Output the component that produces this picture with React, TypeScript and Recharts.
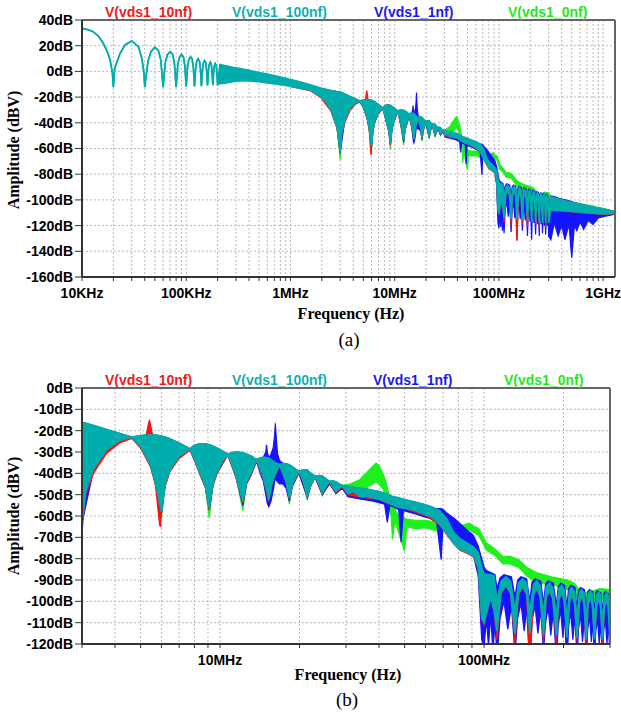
import React from "react";
import { ComposedChart, Area, XAxis, YAxis, CartesianGrid, ReferenceLine } from "recharts";

// one row = [frequency in MHz, lower edge dB, upper edge dB]
type Row = [number, number, number];

const cyan100nf: Row[] = [
  [0.01, 33.5, 33.5], [0.0115, 32.4, 32.4], [0.0128, 30.9, 30.9], [0.0145, 27.2, 27.2], [0.016, 21.9, 21.9],
  [0.0175, 15.2, 15.2], [0.0186, 8.9, 8.9], [0.0196, -1.5, -1.5], [0.02, -12.3, -12.3], [0.0206, 2.5, 2.5],
  [0.0232, 14.1, 14.1], [0.0259, 20.6, 20.6], [0.03, 23.7, 23.7], [0.0348, 19.3, 19.3], [0.0375, 10.2, 10.2],
  [0.0393, -1, -1], [0.04, -12.3, -12.3], [0.043, 8, 8], [0.046, 15.5, 15.5], [0.05, 18.7, 18.7],
  [0.054, 16.5, 16.5], [0.057, 9, 9], [0.06, -12.3, -12.3], [0.063, 7, 7], [0.066, 13, 13],
  [0.07, 15.4, 15.4], [0.074, 13.5, 13.5], [0.077, 6.5, 6.5], [0.08, -12.3, -12.3], [0.083, 5, 5],
  [0.086, 11, 11], [0.09, 13.2, 13.2], [0.094, 11.3, 11.3], [0.097, 4.5, 4.5], [0.1, -12, -12],
  [0.103, 3.5, 3.5], [0.106, 9.3, 9.3], [0.11, 11.4, 11.4], [0.114, 9.6, 9.6], [0.117, 3, 3],
  [0.12, -11.8, -11.8], [0.123, 2, 2], [0.126, 7.8, 7.8], [0.13, 9.8, 9.8], [0.134, 8, 8],
  [0.137, 1.5, 1.5], [0.14, -11.5, -11.5], [0.143, 1, 1], [0.146, 6.5, 6.5], [0.15, 8.4, 8.4],
  [0.154, 6.7, 6.7], [0.157, 0.5, 0.5], [0.16, -11, -11], [0.163, 0, 0], [0.166, 5.3, 5.3],
  [0.17, 7.2, 7.2], [0.174, 5.5, 5.5], [0.177, -0.5, -0.5], [0.18, -10.8, -10.8], [0.183, -1, -1],
  [0.186, 4.2, 4.2], [0.19, 6.1, 6.1], [0.194, 4.4, 4.4], [0.197, -1.5, -1.5], [0.2, -10.5, -10.5],
  [0.21, -9.5, 5.3], [0.24, -9, 4.3], [0.28, -8, 3.2], [0.33, -7.5, 2.2], [0.4, -7.5, 0.8],
  [0.5, -8, -0.8], [0.6, -9, -2], [0.75, -10, -3.8], [0.9, -11, -5.3], [1.05, -12, -6.8],
  [1.25, -13, -8.3], [1.55, -14.5, -10.5], [1.95, -19.6, -13], [2.2, -24, -14], [2.45, -30, -14.8],
  [2.8, -43, -15.8], [3.0, -63, -16.1], [3.1, -48, -16.5], [3.31, -38.3, -17.5], [3.72, -28.9, -19.5],
  [4.17, -24.6, -21.3], [4.63, -23, -23], [5.0, -27.5, -22.3], [5.25, -32, -22], [5.45, -36, -21.9],
  [5.7, -44.5, -22], [6.0, -58, -22.5], [6.2, -45, -23], [6.46, -38.3, -23.8], [7.0, -32, -25.8],
  [7.69, -28.5, -28.5], [8.0, -33, -26.8], [8.39, -39.9, -26.1], [8.8, -46, -26.2], [9.1, -56.3, -26.5],
  [9.4, -45, -27.2], [9.7, -39.9, -28], [10.2, -34.4, -29.5], [10.7, -31, -31], [11.1, -36, -30.2],
  [11.5, -41.4, -30], [12.2, -53.2, -30.3], [12.6, -44, -31], [13.1, -40, -31.8], [13.75, -33.6, -33.6],
  [14.2, -38, -32.8], [14.6, -42, -32.4], [15.3, -52.5, -32.8], [15.7, -45, -33.8], [16.1, -41, -34.8],
  [16.8, -36, -36], [17.3, -40, -35.3], [17.8, -44, -35.5], [18.3, -51.5, -36], [18.8, -45, -37],
  [19.3, -42, -38], [19.9, -39.1, -39.1], [20.6, -43, -38.4], [21.4, -50.8, -38.5], [22.1, -45, -40],
  [22.9, -41.4, -41.4], [23.7, -45, -41], [24.4, -49.2, -41.3], [25.2, -46, -42.7], [26.0, -43.8, -43.8],
  [26.8, -46.5, -43.5], [27.5, -48.5, -44], [28.3, -47, -45], [29.0, -45.8, -45.8], [30.5, -49.5, -46],
  [32, -48.5, -46.5], [33.8, -50.8, -46.9], [35.8, -50.8, -47.2], [38, -51.5, -48], [40, -52, -48.5],
  [42.5, -53.5, -49.5], [45, -54.7, -50.8], [47.5, -56, -51.5], [51, -56.5, -52.5], [55, -57.5, -53.5],
  [60, -59.4, -54.7], [63, -60.2, -55.5], [68, -64, -57.5], [72, -68, -61], [77, -73, -68],
  [81, -75.5, -70.5], [86, -77, -72.5], [91, -78.5, -74.5], [95, -84, -77], [98, -108, -84],
  [100, -110, -87], [103, -104, -87.5], [106, -98, -87.5], [109, -104, -88], [112, -114, -100],
  [116, -96, -90.5], [121, -92.5, -88.5], [126, -96, -90.5], [131, -115, -104], [135, -96.5, -91.5],
  [140, -93, -89.5], [145, -96.5, -91.5], [149, -115, -105], [154, -97, -92], [158, -94, -90.5],
  [163, -97.5, -92.5], [168, -116, -106], [172, -98, -93], [177, -95, -91.5], [182, -98.5, -93.5],
  [188, -116, -107], [192, -99, -94], [197, -96, -92.5], [201, -99.5, -94.5], [206, -117, -108],
  [211, -100, -95], [215, -97, -93.5], [220, -100.5, -95.5], [225, -117, -108], [230, -100.5, -95.5],
  [234, -97.5, -94.5], [239, -101, -96], [244, -118, -109], [248, -101, -96.5], [253, -98.5, -95],
  [257, -101.5, -96.5], [262, -118, -109], [267, -102, -97], [272, -99, -95.5], [276, -102, -97],
  [281, -118, -110], [286, -102, -97.5], [291, -99.5, -96], [295, -102.5, -97.5], [300, -118, -110],
  [315, -108, -97.5], [360, -108, -99], [420, -108.5, -100.5], [500, -109, -102], [600, -109.5, -103.3],
  [700, -110, -104.5], [850, -110.5, -106], [1000, -111, -107], [1150, -110.8, -108], [1300, -110.5, -109],
];

const red10nf: Row[] = [
  [1.0, -11.8, -6.3], [1.25, -13.4, -8.5], [1.55, -15, -10.6], [1.95, -20.3, -13.2], [2.45, -31, -15],
  [2.8, -44.5, -16], [3.0, -64, -16.3], [3.1, -50, -16.6], [3.31, -40.2, -17.6], [3.72, -30.6, -19.6],
  [4.17, -25.8, -21.4], [4.63, -23.6, -23.1], [5.0, -28.2, -22.4], [5.25, -33, -22.1], [5.35, -35, -17],
  [5.4, -36, -14.9], [5.45, -37, -17], [5.55, -40, -21.7], [5.7, -46, -22.1], [5.9, -64, -22.4],
  [5.95, -65, -22.5], [6.05, -52, -22.6], [6.2, -46, -23.1], [6.46, -39.2, -23.9], [7.0, -33, -25.9],
  [7.69, -29.2, -28.6], [8.0, -33.6, -26.9], [8.39, -40.6, -26.2], [8.8, -46.8, -26.3], [9.1, -57.2, -26.6],
  [9.4, -45.8, -27.3], [9.7, -40.8, -28.1], [10.2, -35.2, -29.6], [10.7, -31.6, -31.1], [11.1, -36.6, -30.3],
  [11.5, -42.2, -30.1], [12.2, -54, -30.4], [12.6, -44.8, -31.1], [13.1, -40.8, -31.9], [13.75, -34.2, -33.7],
  [14.2, -38.6, -32.9], [14.6, -42.8, -32.5], [15.3, -53.2, -32.9], [15.7, -45.6, -33.9], [16.1, -41.6, -34.9],
  [16.8, -36.6, -36.1], [17.3, -40.6, -35.4], [17.8, -44.6, -35.6], [18.3, -52.2, -36.1], [18.8, -45.6, -37.1],
  [19.3, -42.6, -38.1], [19.9, -39.6, -39.2], [20.6, -43.6, -38.5], [21.4, -51.4, -38.6], [22.1, -45.6, -40.1],
  [22.9, -41.9, -41.5], [23.7, -45.6, -41.1], [24.4, -49.7, -41.4], [25.2, -46.6, -42.8], [26, -44.3, -43.9],
  [26.8, -47, -43.6], [27.5, -49, -44.1], [28.3, -47.5, -45.1], [29, -46.3, -45.9], [30.5, -50, -46.1],
  [33.8, -51.2, -47], [38, -51.9, -48.1], [40, -52.3, -48.6], [45, -55, -50.9], [51, -56.8, -52.6],
  [60, -59.7, -54.8], [68, -64.3, -57.6], [72, -68.5, -61.2], [77, -73.3, -68.2], [81, -76, -70.6],
  [86, -77.4, -72.6], [91, -79, -74.6], [95, -84.5, -77.2], [98, -108.5, -84.2], [100, -111, -87.1],
  [103, -104.5, -87.6], [106, -98.5, -87.6], [109, -104.5, -88.1], [112, -118, -100], [116, -96.5, -90.6],
  [121, -93, -88.6], [126, -96.5, -90.6], [131, -120, -104], [135, -97, -91.6], [140, -93.5, -89.6],
  [145, -97, -91.6], [149, -132, -105], [154, -97.5, -92.1], [158, -94.5, -90.6], [163, -98, -92.6],
  [168, -119, -106], [172, -98.5, -93.1], [177, -95.5, -91.6], [182, -99, -93.6], [188, -121, -107],
  [192, -99.5, -94.1], [197, -96.5, -92.6], [201, -100, -94.6], [206, -112, -108], [211, -100.5, -95.1],
  [215, -97.5, -93.6], [220, -101, -95.6], [225, -119, -108], [230, -101, -95.6], [234, -98, -94.6],
  [239, -101.5, -96.1], [244, -122, -109], [248, -101.5, -96.6], [253, -99, -95.1], [257, -102, -96.6],
  [262, -117, -109], [267, -102.5, -97.1], [272, -99.5, -95.6], [276, -102.5, -97.1], [281, -121, -110],
  [286, -102.5, -97.6], [291, -100, -96.1], [295, -103, -97.6], [300, -114, -110], [315, -108.3, -97.6],
  [500, -109.3, -102.1], [1000, -111.2, -107.1], [1300, -110.7, -109.1],
];

const blue1nf: Row[] = [
  [2.45, -30.5, -14.9], [2.8, -43.5, -15.9], [3.0, -63.5, -16.2], [3.31, -38.8, -17.6], [3.72, -29.3, -19.6],
  [4.17, -24.9, -21.4], [4.63, -23.2, -23.1], [5.0, -27.8, -22.4], [5.45, -36.5, -22], [5.7, -45, -22.1],
  [6.0, -58.5, -22.6], [6.2, -45.5, -23.1], [6.46, -38.8, -23.9], [7.0, -32.3, -25.9], [7.69, -28.8, -28.6],
  [8.39, -40.2, -26.2], [8.8, -46.5, -26.3], [9.1, -57, -26.6], [9.4, -45.5, -27.3], [9.7, -40.5, -28.1],
  [10.7, -31.3, -31.1], [11.5, -42, -30.1], [12.2, -55, -30.4], [12.6, -45, -31.1], [13.1, -41, -31.9],
  [13.75, -34.5, -33.7], [14.2, -40, -32.8], [14.6, -44, -32.4], [14.9, -50, -30], [15.0, -52, -26.6],
  [15.1, -54, -30], [15.3, -55.6, -32.8], [15.6, -53, -31], [15.9, -48, -28], [16.1, -44, -22],
  [16.2, -42, -16.5], [16.3, -43, -22], [16.5, -44, -30.5], [16.8, -45, -34], [17.3, -45, -35.3],
  [17.8, -47, -35.6], [18.3, -53, -36], [18.8, -46, -37], [19.9, -40, -39.1], [21.4, -51.5, -38.5],
  [22.1, -45.5, -40], [22.9, -42, -41.4], [24.4, -50, -41.3], [26, -45, -43.8], [27.5, -49.5, -44],
  [29, -47, -45.8], [30.5, -51, -46.5], [33.8, -52, -48], [38, -53, -49.5], [42, -54.5, -51],
  [43, -63, -51], [44, -55, -51.5], [47.5, -57, -52.5], [48.5, -72.3, -53], [49.5, -57.5, -53],
  [55, -59, -54.5], [60, -60.5, -55.5], [66, -62, -56.5], [68.8, -80.5, -56.5], [70, -63, -57],
  [72, -64, -58.5], [77, -67, -61], [81, -71, -63.5], [86, -75, -66.5], [91, -78, -69],
  [95, -88, -74], [98, -118, -80], [100, -122, -84], [102, -108, -85.5], [104, -121, -86],
  [106, -106, -86.5], [108, -124, -87], [110, -110, -87.5], [112, -126, -94], [115, -108, -89],
  [119, -100, -87.5], [123, -113, -88], [127, -102, -88.5], [131, -125, -98], [134, -108, -90],
  [138, -101, -88.5], [142, -114, -89], [145, -103, -89.5], [149, -131, -100], [152, -109, -91],
  [156, -102, -89.5], [160, -115, -90], [164, -104, -90.5], [168, -124, -101], [171, -110, -92],
  [175, -103, -90.5], [179, -116, -91], [183, -105, -91.5], [188, -128, -102], [191, -111, -93],
  [195, -104, -91.5], [199, -117, -92], [202, -106, -92.5], [206, -131, -103], [209, -112, -94],
  [213, -105, -92.5], [217, -118, -93], [221, -107, -93.5], [225, -127, -104], [228, -113, -95],
  [232, -106, -93.5], [236, -119, -94], [240, -108, -94.5], [244, -128, -105], [247, -113, -95.5],
  [251, -107, -94.5], [255, -119, -95], [258, -109, -95.5], [262, -126, -105], [265, -114, -96],
  [269, -108, -95], [273, -120, -95.5], [277, -110, -96], [281, -127, -106], [284, -114, -96.5],
  [288, -108, -95.5], [292, -120, -96], [296, -110, -96.5], [300, -128, -106], [315, -131, -97],
  [340, -118, -97.5], [370, -128, -98.5], [400, -120, -99.3], [430, -131, -100], [470, -119, -100.8],
  [500, -145, -101.5], [530, -120, -102], [560, -124, -102.6], [600, -117, -103.2], [650, -123, -104],
  [720, -116, -105], [800, -119, -106], [900, -114, -107], [1000, -113, -107.8], [1150, -112, -108.8],
  [1300, -111, -109.8],
];

const green0nf: Row[] = [
  [2.45, -30.3, -14.8], [2.8, -43.5, -15.8], [3.0, -68.8, -16.1], [3.1, -49, -16.5], [3.31, -38.6, -17.5],
  [3.72, -29.2, -19.5], [4.17, -24.8, -21.3], [4.63, -23.1, -23], [5.0, -27.7, -22.3], [5.25, -32.3, -22],
  [5.45, -36.4, -21.9], [5.7, -45.5, -22], [6.0, -61, -22.5], [6.2, -45.5, -23], [6.46, -38.6, -23.8],
  [7.0, -32.2, -25.8], [7.69, -28.6, -28.5], [8.0, -33.3, -26.8], [8.39, -40.2, -26.1], [8.8, -46.5, -26.2],
  [9.1, -61, -26.5], [9.4, -45.5, -27.2], [9.7, -40.2, -28], [10.2, -34.6, -29.5], [10.7, -31.1, -31],
  [11.1, -36.3, -30.2], [11.5, -41.7, -30], [12.2, -57.5, -30.3], [12.6, -44.4, -31], [13.1, -40.3, -31.8],
  [13.75, -33.8, -33.6], [14.2, -38.3, -32.8], [14.6, -42.4, -32.4], [15.3, -55.5, -32.8], [15.7, -45.4, -33.8],
  [16.1, -41.3, -34.8], [16.8, -36.2, -36], [17.3, -40.3, -35.3], [17.8, -44.4, -35.5], [18.3, -54.5, -36],
  [18.8, -45.4, -37], [19.3, -42.3, -38], [19.9, -39.3, -39.1], [20.6, -43.3, -38.4], [21.4, -52.5, -38.5],
  [22.1, -45.4, -40], [22.9, -41.6, -41.4], [23.7, -45.4, -41], [24.4, -50.5, -41.3], [25.2, -46.4, -42.7],
  [26.0, -44, -43.8], [26.8, -46.8, -43.5], [27.5, -49.5, -44], [28.3, -47.3, -45], [29.2, -47, -45.5],
  [31, -49, -45], [33.8, -50, -43], [35, -48, -41], [36.8, -46, -38.3], [38, -45, -36.5],
  [39, -44, -35.2], [40, -45, -36.3], [41.3, -47, -40], [42.3, -50, -43], [43.2, -54, -47.7],
  [44.5, -60, -53], [45, -71, -55], [46, -62, -57], [47, -66, -59], [50, -76.6, -61],
  [51, -65, -61.5], [55, -66, -62], [60, -65.5, -62], [66, -67, -63], [71, -66, -62.5],
  [76, -70, -67], [82, -68, -64.5], [88, -66.5, -63.3], [92, -68, -65], [95.5, -69, -65.8],
  [102, -76, -72.5], [110, -78.5, -75.5], [118, -82.5, -79], [125, -82.5, -78.8], [135, -84, -80.4],
  [145, -88, -84], [158, -91.5, -86.5], [180, -92, -88.5], [207, -94.5, -90], [220, -96, -91.5],
  [233, -101, -96], [252, -100, -95.5], [275, -99, -94], [300, -98.5, -94.5], [315, -103, -97.5],
  [500, -106, -101.5], [1000, -110, -106.5], [1300, -110.5, -109.3],
];

// legend order as printed above each plot
const legendNames = ["V(vds1_10nf)", "V(vds1_100nf)", "V(vds1_1nf)", "V(vds1_0nf)"];
const legendColors = ["#f21a1a", "#10afaf", "#1a1af0", "#22e822"];

const decadeValues = [0.01, 0.1, 1, 10, 100, 1000];
const decadeLabels = ["10KHz", "100KHz", "1MHz", "10MHz", "100MHz", "1GHz"];
const minorSteps = [1, 2, 3, 4, 5, 6, 7, 8, 9];

const yTicksA = [40, 20, 0, -20, -40, -60, -80, -100, -120, -140, -160];
const yTicksB = [0, -10, -20, -30, -40, -50, -60, -70, -80, -90, -100, -110, -120];

// drawn back to front, cyan last so it sits on top like the original
const traces = [
  { key: "g", color: "#1ef01e", rows: green0nf, width: 1.2 },
  { key: "b", color: "#1414ff", rows: blue1nf, width: 1.2 },
  { key: "r", color: "#ff1010", rows: red10nf, width: 1.2 },
  { key: "c", color: "#00adad", rows: cyan100nf, width: 1.6 },
];

const sans = "'Liberation Sans', Arial, sans-serif";
const serif = "'Liberation Serif', 'Times New Roman', serif";

const tickStyle = { fontSize: 14, fontWeight: 700, fill: "#000", fontFamily: sans };

function freqLabel(v: number) {
  const i = decadeValues.findIndex((d) => Math.abs(v / d - 1) < 1e-6);
  return i >= 0 ? decadeLabels[i] : "";
}

function toPoints(rows: Row[]) {
  return rows.map(([f, lo, hi]) => ({ f, band: [lo, hi] }));
}

function Panel({ top, height, xDomain, yDomain, yTicks, right }: {
  top: number; height: number; xDomain: [number, number]; yDomain: [number, number]; yTicks: number[]; right: number;
}) {
  const xTicks = decadeValues
    .flatMap((d) => minorSteps.map((m) => +(m * d).toPrecision(6)))
    .filter((v) => v >= xDomain[0] * 0.999 && v <= xDomain[1] * 1.001);
  return (
    <div style={{ position: "absolute", left: 0, top }}>
      <ComposedChart width={621} height={height} margin={{ top: 20, right, bottom: 0, left: 0 }}>
        <CartesianGrid stroke="#b9b9b9" strokeDasharray="2 2" />
        <XAxis
          dataKey="f" type="number" scale="log" domain={xDomain} allowDataOverflow
          ticks={xTicks} interval={0} tickFormatter={freqLabel} height={23}
          tickSize={4} tickMargin={7} tick={tickStyle}
          axisLine={{ stroke: "#333", strokeWidth: 2 }} tickLine={{ stroke: "#333" }}
        />
        <YAxis
          type="number" domain={yDomain} allowDataOverflow ticks={yTicks} interval={0}
          tickFormatter={(v: number) => `${v}dB`} width={82} tickSize={7} tickMargin={2} tick={tickStyle}
          axisLine={{ stroke: "#333", strokeWidth: 2 }} tickLine={{ stroke: "#333" }}
        />
        {traces.map((t) => (
          <Area
            key={t.key} data={toPoints(t.rows)} dataKey="band" type="linear"
            stroke={t.color} strokeWidth={t.width} fill={t.color} fillOpacity={1}
            dot={false} activeDot={false} isAnimationActive={false}
          />
        ))}
        <ReferenceLine y={yDomain[1]} stroke="#666" strokeWidth={2} />
        <ReferenceLine x={xDomain[1]} stroke="#666" strokeWidth={2} />
      </ComposedChart>
    </div>
  );
}

function Legend({ y, xs }: { y: number; xs: number[] }) {
  return (
    <>
      {legendNames.map((n, i) => (
        <div key={n} style={{
          position: "absolute", left: xs[i], top: y, transform: "translateY(-50%)",
          fontFamily: sans, fontWeight: 700, fontSize: 14, color: legendColors[i], whiteSpace: "nowrap",
        }}>{n}</div>
      ))}
    </>
  );
}

function Label({ x, y, text, size, bold, rotate }: {
  x: number; y: number; text: string; size: number; bold?: boolean; rotate?: boolean;
}) {
  return (
    <div style={{
      position: "absolute", left: x, top: y, whiteSpace: "nowrap",
      transform: `translate(-50%, -50%)${rotate ? " rotate(-90deg)" : ""}`,
      fontFamily: serif, fontSize: size, fontWeight: bold ? 700 : 400, color: "#000",
    }}>{text}</div>
  );
}

export default function App() {
  return (
    <div style={{ position: "absolute", left: 0, top: 0, width: 621, height: 713, background: "#fff", overflow: "hidden" }}>
      <Panel top={0} height={300} xDomain={[0.01, 1300]} yDomain={[-160, 40]} yTicks={yTicksA} right={6} />
      <Panel top={368} height={299} xDomain={[3, 300]} yDomain={[-120, 0]} yTicks={yTicksB} right={11} />
      <Legend y={12} xs={[105, 232, 374, 508]} />
      <Legend y={380} xs={[105, 232, 373, 504]} />
      <Label x={14} y={150} text="Amplitude (dBV)" size={16} bold rotate />
      <Label x={14} y={516} text="Amplitude (dBV)" size={16} bold rotate />
      <Label x={351} y={314} text="Frequency (Hz)" size={16} bold />
      <Label x={348} y={675} text="Frequency (Hz)" size={16} bold />
      <Label x={349} y={340} text="(a)" size={19} />
      <Label x={347} y={700} text="(b)" size={19} />
    </div>
  );
}
